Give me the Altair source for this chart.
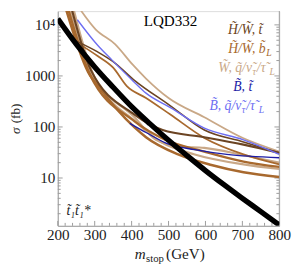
import altair as alt
import pandas as pd

W, H = 227, 220
GRAY = "#9b9b9b"
SERIF = "Liberation Serif"

C_DBROWN = "#6b4423"
C_MBROWN = "#a8692e"
C_TAN = "#c9a887"
C_DBLUE = "#1c1ca6"
C_LBLUE = "#6e6ef2"

# ---- data (m_stop in GeV, sigma in fb) ----
black_m = [200, 250, 300, 350, 400, 450, 500, 550, 600, 650, 700, 750, 800]
black_s = [13200, 4200, 1500, 600, 250, 115, 55, 27.5, 14, 7.4, 4.0, 2.2, 1.2]

tan1_m = [250, 303, 355, 403, 439, 500, 597, 703, 800]
tan1_s = [26000, 8100, 4200, 1660, 890, 370, 155, 60, 33]

tan2_m = [229, 284, 408, 466, 532, 597, 703, 800]
tan2_s = [26000, 1330, 155, 56, 41, 39, 28, 20]

tan3_m = [239, 295, 413, 479, 571, 703, 800]
tan3_s = [26000, 1120, 123, 51, 29, 18.5, 15]

lblue_m = [253, 308, 347, 405, 439, 505, 597, 703, 800]
lblue_s = [12600, 3980, 2040, 780, 460, 240, 95, 56, 29]

dblue_m = [395, 439, 500, 571, 658, 800]
dblue_s = [118, 78, 46, 36, 29, 25]

dbrown1_m = [250, 308, 350, 405, 505, 597, 703, 800]
dbrown1_s = [4800, 2950, 1900, 850, 260, 87, 51, 31]

dbrown2_m = [234, 289, 408, 484, 597, 703, 800]
dbrown2_s = [26000, 1330, 175, 87, 63, 45, 31]

mbrown1_m = [218, 282, 316, 408, 439, 526, 616, 703, 800]
mbrown1_s = [26000, 1200, 550, 98, 63, 29, 18, 13, 10.5]

mbrown2_m = [250, 308, 350, 387, 439, 505, 597, 703, 800]
mbrown2_s = [4600, 2450, 1450, 630, 370, 175, 61, 29, 18.5]

mbrown3_m = [224, 287, 408, 492, 597, 703, 800]
mbrown3_s = [26000, 1070, 129, 56, 33, 21, 16.5]

ytick_major = [10, 100, 1000, 10000]
ytick_minor = [k * 10 ** e for e in range(0, 4) for k in range(2, 10)]
xtick_major = [200, 300, 400, 500, 600, 700, 800]
xtick_minor = [v for v in range(200, 801, 20) if v % 100]

xscale = alt.Scale(domain=[200, 800], nice=False, zero=False)
yscale = alt.Scale(type="log", domain=[1.157, 18605], nice=False)

xaxis = alt.Axis(values=xtick_major, format="d", title=None)
yaxis = alt.Axis(values=ytick_major, title=None,
                 labelExpr="datum.value >= 10000 ? '10⁴' : format(datum.value, 'd')")


def X(field):
    return alt.X(field, scale=xscale, axis=xaxis)


def Y(field):
    return alt.Y(field, scale=yscale, axis=yaxis)


def curve(m, s, color, width):
    df = pd.DataFrame({"m": m, "s": s})
    return alt.Chart(df).mark_line(
        color=color, strokeWidth=width, clip=True, interpolate="monotone"
    ).encode(x=X("m:Q"), y=Y("s:Q"))


def txt(t, x, y, size, color="black", italic=False, align="left",
        baseline="alphabetic", angle=0):
    kw = dict(font=SERIF, fontSize=size, color=color, align=align,
              baseline=baseline,
              fontStyle="italic" if italic else "normal")
    if angle:
        kw["angle"] = angle
    return alt.Chart(pd.DataFrame({"t": [t]})).mark_text(**kw).encode(
        text="t:N", x=alt.value(x), y=alt.value(y))


layers = []
xt_maj = pd.DataFrame({"v": xtick_major})
xt_min = pd.DataFrame({"v": xtick_minor})
yt_maj = pd.DataFrame({"v": ytick_major})
yt_min = pd.DataFrame({"v": ytick_minor})

layers.append(alt.Chart(xt_maj).mark_rule(color=GRAY).encode(
    x=X("v:Q"), y=alt.value(H), y2=alt.value(H - 5)))
layers.append(alt.Chart(xt_min).mark_rule(color=GRAY).encode(
    x=X("v:Q"), y=alt.value(H), y2=alt.value(H - 3)))
layers.append(alt.Chart(yt_maj).mark_rule(color=GRAY).encode(
    y=Y("v:Q"), x=alt.value(0), x2=alt.value(5)))
layers.append(alt.Chart(yt_min).mark_rule(color=GRAY).encode(
    y=Y("v:Q"), x=alt.value(0), x2=alt.value(3)))
layers.append(alt.Chart(yt_maj).mark_rule(color=GRAY).encode(
    y=Y("v:Q"), x=alt.value(W), x2=alt.value(W - 5)))
layers.append(alt.Chart(yt_min).mark_rule(color=GRAY).encode(
    y=Y("v:Q"), x=alt.value(W), x2=alt.value(W - 3)))
layers.append(alt.Chart(pd.DataFrame({"a": [0]})).mark_rule(color=GRAY).encode(
    x=alt.value(W), y=alt.value(0), y2=alt.value(H)))

# curves
layers += [
    curve(tan1_m, tan1_s, C_TAN, 1.8),
    curve(tan2_m, tan2_s, C_TAN, 2.2),
    curve(tan3_m, tan3_s, C_TAN, 2.2),
    curve(mbrown1_m, mbrown1_s, C_MBROWN, 2.6),
    curve(mbrown2_m, mbrown2_s, C_MBROWN, 1.8),
    curve(mbrown3_m, mbrown3_s, C_MBROWN, 2.4),
    curve(dbrown1_m, dbrown1_s, C_DBROWN, 1.6),
    curve(dbrown2_m, dbrown2_s, C_DBROWN, 2.2),
    curve(lblue_m, lblue_s, C_LBLUE, 1.4),
    curve(dblue_m, dblue_s, C_DBLUE, 1.4),
    curve(black_m, black_s, "black", 5.5),
]

T = "\u0303"  # combining tilde
layers += [
    txt("LQD332", 88, 15, 15.5),
    txt(f"H{T}/W{T}, t{T}", 192, 23, 14, C_DBROWN, True, "center"),
    txt(f"H{T}/W{T}, b{T}", 213, 42.5, 14, C_MBROWN, True, "right"),
    txt("L", 213.5, 46, 10, C_MBROWN, True),
    txt(f"W{T}, q{T}/ν{T}", 199, 62, 14, C_TAN, True, "right"),
    txt("τ", 199.5, 65, 10, C_TAN, True),
    txt(f"/τ{T}", 204, 62, 14, C_TAN, True),
    txt("L", 217, 65, 10, C_TAN, True),
    txt(f"B{T}, t{T}", 189.5, 81.5, 14, C_DBLUE, True, "center"),
    txt(f"B{T}, q{T}/ν{T}", 188, 101, 14, C_LBLUE, True, "right"),
    txt("τ", 188.5, 104, 10, C_LBLUE, True),
    txt(f"/τ{T}", 193, 101, 14, C_LBLUE, True),
    txt("L", 206, 104, 10, C_LBLUE, True),
    txt(f"t{T}₁t{T}₁*", 9, 209, 14, "#222", True),
    txt("m", 90, 254.5, 15.5, "#222", True, "right"),
    txt("stop", 90.5, 257.5, 11, "#222"),
    txt("(GeV)", 111, 254.5, 15.5, "#222"),
    txt("σ", -43, 126, 13.5, "#222", True, "left", "middle", 270),
    txt("(fb)", -43, 115, 13.5, "#222", False, "left", "middle", 270),
]

chart = alt.layer(*layers).properties(
    width=W, height=H,
    autosize=alt.AutoSizeParams(type="none"),
    padding={"left": 51, "top": 0, "right": 13, "bottom": 39},
).configure_view(stroke=None).configure(background="white").configure_axis(
    labelFont=SERIF, labelFontSize=15.5, labelColor="#222", ticks=False,
    domain=True, domainColor=GRAY, grid=False,
).configure_axisX(labelPadding=2, labelFlush=False).configure_axisY(labelPadding=3)

chart.save("out.html", embed_options={"renderer": "svg", "actions": False})
